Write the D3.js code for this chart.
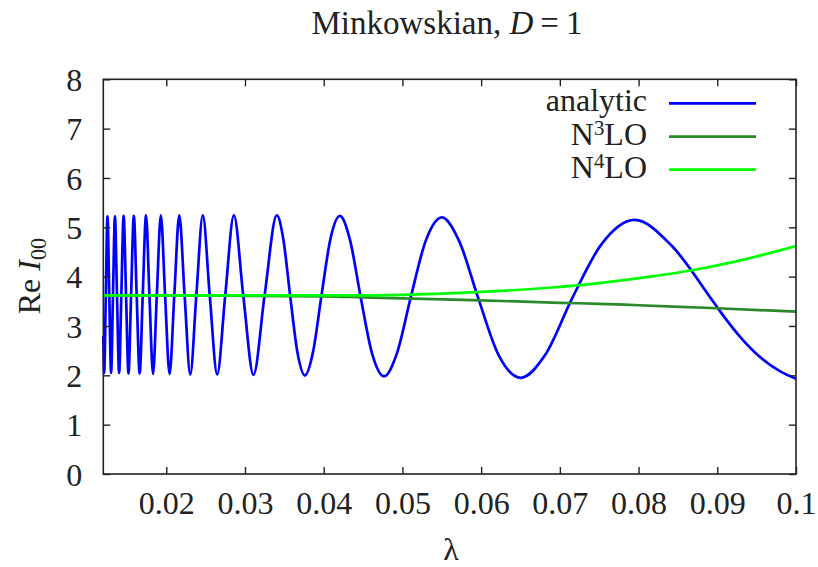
<!DOCTYPE html>
<html>
<head>
<meta charset="utf-8">
<script src="https://cdn.jsdelivr.net/npm/d3@7"></script>
<style>
  body { margin: 0; background: white; }
  svg { font-family: "Liberation Serif", "Times New Roman", serif; }
</style>
</head>
<body>
<svg id="chart" width="818" height="567"></svg>
<script>
// values
let lambdaTicks = [0.02, 0.03, 0.04, 0.05, 0.06, 0.07, 0.08, 0.09, 0.1]
let lambdaTickLabels = ['0.02', '0.03', '0.04', '0.05', '0.06', '0.07', '0.08', '0.09', '0.1']
let reTicks = [0, 1, 2, 3, 4, 5, 6, 7, 8]

// analytic curve: extrema, crossings and a few in-between readings
let analyticLambda = [
    0.0120, 0.01211, 0.01232, 0.01253, 0.01276, 0.01299, 0.01323, 0.01348, 0.01374, 0.01401,
    0.01429, 0.01458, 0.01489, 0.01520, 0.01553, 0.01588, 0.01624, 0.01662, 0.01701, 0.01743,
    0.01786, 0.01832, 0.01880, 0.01931, 0.01985, 0.02042, 0.02102, 0.02165, 0.02233, 0.02305,
    0.02382, 0.02464, 0.02552, 0.02647, 0.02749, 0.02859, 0.02978, 0.03108, 0.03249, 0.03404,
    0.03487, 0.03574, 0.03666, 0.03762, 0.03864, 0.03971, 0.04085, 0.04205, 0.04333, 0.04468,
    0.04613, 0.04766, 0.04931, 0.05107, 0.05297, 0.05501, 0.05721, 0.05960, 0.06219, 0.06502,
    0.06812, 0.07153, 0.07530, 0.07949, 0.08418, 0.08945, 0.0910, 0.0929, 0.0955, 0.0980,
    0.1000
]
let analyticRe = [
    2.80, 2.05, 3.62, 5.22, 3.62, 2.05, 3.62, 5.22, 3.62, 2.05,
    3.62, 5.23, 3.62, 2.04, 3.62, 5.23, 3.62, 2.04, 3.62, 5.24,
    3.62, 2.03, 3.62, 5.24, 3.62, 2.03, 3.62, 5.24, 3.62, 2.02,
    3.62, 5.24, 3.62, 2.02, 3.62, 5.24, 3.62, 2.01, 3.62, 5.24,
    4.76, 3.61, 2.47, 2.00, 2.47, 3.61, 4.76, 5.23, 4.75, 3.60,
    2.45, 1.98, 2.45, 3.59, 4.73, 5.20, 4.72, 3.58, 2.42, 1.95,
    2.41, 3.55, 4.66, 5.15, 4.63, 3.50, 3.16, 2.78, 2.36, 2.08,
    1.93
]

let n3loLambda = [0.012, 0.02, 0.03, 0.04, 0.045, 0.05, 0.06, 0.07, 0.075, 0.08, 0.09, 0.1]
let n3loRe = [3.62, 3.62, 3.61, 3.60, 3.58, 3.56, 3.52, 3.47, 3.45, 3.42, 3.36, 3.29]

let n4loLambda = [0.012, 0.02, 0.03, 0.04, 0.045, 0.052, 0.06, 0.069, 0.075, 0.0815, 0.0868, 0.0921, 0.1]
let n4loRe = [3.62, 3.62, 3.62, 3.62, 3.62, 3.64, 3.69, 3.78, 3.87, 4.00, 4.13, 4.30, 4.62]

let seriesNames = ['analytic', 'N3LO', 'N4LO']
let seriesColors = ['#0000ff', '#2a8a2a', '#00ff00']

let margin = {left: 103.3, right: 22, top: 79.3, bottom: 93}
let width = 818, height = 567
let fontSize = 32
let tickLen = 7

let svg = d3.select('#chart')

let x = d3.scaleLinear()
    .domain([0.012, 0.1])
    .range([margin.left, width - margin.right])
let y = d3.scaleLinear()
    .domain([0, 8])
    .range([height - margin.bottom, margin.top])

function toPoints(xs, ys) {
    return xs.map((v, i) => [v, ys[i]])
}

let series = [
    toPoints(analyticLambda, analyticRe),
    toPoints(n3loLambda, n3loRe),
    toPoints(n4loLambda, n4loRe)
]

// monotone keeps the peaks from overshooting
let line = d3.line()
    .x(d => x(d[0]))
    .y(d => y(d[1]))
    .curve(d3.curveMonotoneX)

// curves, clipped to the plot box
svg.append('clipPath').attr('id', 'plotclip')
    .append('rect')
    .attr('x', x.range()[0] - 2).attr('y', y.range()[1])
    .attr('width', x.range()[1] - x.range()[0] + 2)
    .attr('height', y.range()[0] - y.range()[1])

svg.append('g').attr('clip-path', 'url(#plotclip)')
    .selectAll('path.curve')
    .data(series)
    .enter().append('path')
    .attr('class', 'curve')
    .attr('d', line)
    .attr('fill', 'none')
    .attr('stroke', (d, i) => seriesColors[i])
    .attr('stroke-width', 2.7)
    .attr('stroke-linejoin', 'round')

// axes with inward ticks on all four sides
let tickFont = g => g.selectAll('text')
    .attr('font-size', fontSize)
    .attr('font-family', '"Liberation Serif", serif')
    .attr('fill', '#222')

let bottom = svg.append('g')
    .attr('transform', `translate(0,${y.range()[0]})`)
    .call(d3.axisBottom(x).tickValues(lambdaTicks)
        .tickFormat((d, i) => lambdaTickLabels[i])
        .tickSizeInner(-tickLen).tickSizeOuter(0).tickPadding(18))
    .call(tickFont)
bottom.selectAll('text').attr('dy', '0.71em').attr('y', 17)

svg.append('g')
    .attr('transform', `translate(0,${y.range()[1]})`)
    .call(d3.axisTop(x).tickValues(lambdaTicks).tickFormat('')
        .tickSizeInner(-tickLen).tickSizeOuter(0))

let left = svg.append('g')
    .attr('transform', `translate(${x.range()[0]},0)`)
    .call(d3.axisLeft(y).tickValues(reTicks).tickFormat(d3.format('d'))
        .tickSizeInner(-tickLen).tickSizeOuter(0).tickPadding(0))
    .call(tickFont)
left.selectAll('text').attr('x', -21).attr('dy', '0.35em')

svg.append('g')
    .attr('transform', `translate(${x.range()[1]},0)`)
    .call(d3.axisRight(y).tickValues(reTicks).tickFormat('')
        .tickSizeInner(-tickLen).tickSizeOuter(0))

svg.selectAll('.domain').remove()
svg.selectAll('.tick line').attr('stroke', '#222').attr('stroke-width', 1.4)

svg.append('rect')
    .attr('x', x.range()[0]).attr('y', y.range()[1])
    .attr('width', x.range()[1] - x.range()[0])
    .attr('height', y.range()[0] - y.range()[1])
    .attr('fill', 'none')
    .attr('stroke', '#222')
    .attr('stroke-width', 1.6)

// title
let title = svg.append('text')
    .attr('x', 447).attr('y', 34)
    .attr('text-anchor', 'middle')
    .attr('font-size', fontSize + 1)
    .attr('fill', '#222')
title.append('tspan').text('Minkowskian, ')
title.append('tspan').attr('font-style', 'italic').text('D')
title.append('tspan').attr('dx', 7).text('=')
title.append('tspan').attr('dx', 7).text('1')

// axis labels
svg.append('text')
    .attr('x', 451).attr('y', 560)
    .attr('text-anchor', 'middle')
    .attr('font-size', fontSize)
    .attr('fill', '#222')
    .text('λ')

let ylab = svg.append('text')
    .attr('transform', 'translate(40,276) rotate(-90)')
    .attr('text-anchor', 'middle')
    .attr('font-size', fontSize)
    .attr('fill', '#222')
ylab.append('tspan').text('Re ')
ylab.append('tspan').attr('font-style', 'italic').text('I')
ylab.append('tspan').attr('font-size', fontSize * 0.7).attr('dy', 6).text('00')

// legend
let legendRows = [103.3, 136.7, 169.7]
let legend = svg.append('g')
legendRows.forEach((ly, i) => {
    legend.append('line')
        .attr('x1', 669).attr('x2', 756)
        .attr('y1', ly).attr('y2', ly)
        .attr('stroke', seriesColors[i])
        .attr('stroke-width', 2.7)
    let t = legend.append('text')
        .attr('x', 647).attr('y', ly + 8)
        .attr('text-anchor', 'end')
        .attr('font-size', fontSize)
        .attr('fill', '#222')
    let name = seriesNames[i]
    if (name === 'analytic') {
        t.text(name)
    } else {
        t.append('tspan').text('N')
        t.append('tspan').attr('font-size', fontSize * 0.65).attr('dy', -10).text(name.charAt(1))
        t.append('tspan').attr('dy', 10).text('LO')
    }
})
</script>
</body>
</html>
